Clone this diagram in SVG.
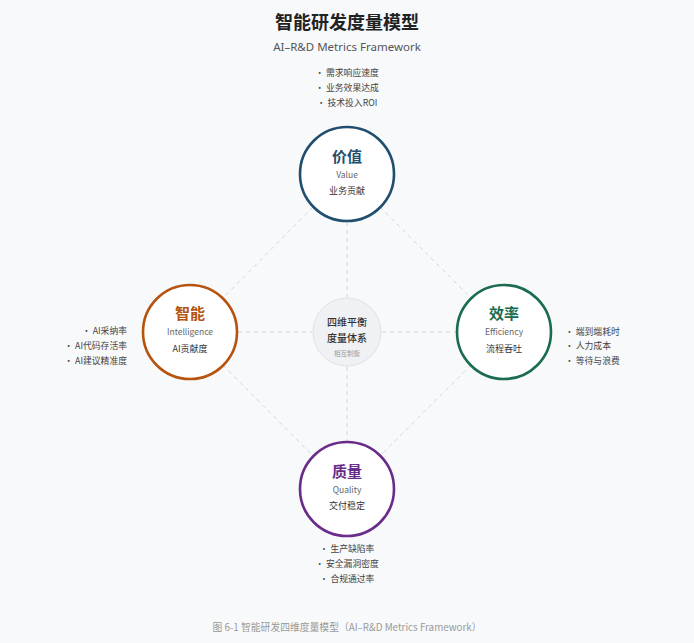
<svg xmlns="http://www.w3.org/2000/svg" width="694" height="643" viewBox="0 0 694 643">
<style>
text{font-family:"Noto Sans CJK SC","Noto Sans",sans-serif;}
.t{font-size:18px;font-weight:700;fill:#222;text-anchor:middle}
.st{font-size:11.5px;fill:#555;text-anchor:middle;font-family:"Noto Sans","Noto Sans CJK SC",sans-serif}
.cap{font-size:9.8px;fill:#999;text-anchor:middle}
.node{fill:#fff;stroke-width:2.6}
.nt{font-size:15px;font-weight:700;text-anchor:middle}
.ne{font-size:8.5px;fill:#666;text-anchor:middle}
.nl{font-size:9px;fill:#333;text-anchor:middle}
.b{font-size:8.8px;fill:#444}
.dash{stroke:#d3d6db;stroke-width:1;stroke-dasharray:4 4;fill:none}
</style>
<rect width="694" height="643" fill="#f8f9fb"/>
<text class="t" x="347" y="29">智能研发度量模型</text>
<text class="st" x="347" y="51">AI–R&amp;D Metrics Framework</text>
<g id="connectors">
<line class="dash" x1="313" y1="207" x2="223" y2="298"/>
<line class="dash" x1="380" y1="207" x2="471" y2="298"/>
<line class="dash" x1="223" y1="365" x2="313" y2="456"/>
<line class="dash" x1="471" y1="365" x2="380" y2="456"/>
<line class="dash" x1="347" y1="222" x2="347" y2="297"/>
<line class="dash" x1="347" y1="367" x2="347" y2="441"/>
<line class="dash" x1="238" y1="332" x2="312" y2="332"/>
<line class="dash" x1="382" y1="332" x2="456" y2="332"/>
</g>
<g id="center">
<circle cx="347" cy="332" r="34" fill="#f0f1f4" stroke="#dfe1e6" stroke-width="1"/>
<text x="347" y="326" style="font-size:10px;fill:#333;text-anchor:middle;font-weight:500">四维平衡</text>
<text x="347" y="342" style="font-size:10px;fill:#333;text-anchor:middle;font-weight:500">度量体系</text>
<text x="347" y="356" style="font-size:6.5px;fill:#999;text-anchor:middle">相互制衡</text>
</g>
<g id="value">
<circle class="node" cx="347" cy="174" r="47" stroke="#1f4e6e"/>
<text class="nt" x="347" y="162" fill="#1f4e6e">价值</text>
<text class="ne" x="347" y="178">Value</text>
<text class="nl" x="347" y="194">业务贡献</text>
<text class="b" x="347" y="76" text-anchor="middle">· 需求响应速度</text>
<text class="b" x="347" y="91" text-anchor="middle">· 业务效果达成</text>
<text class="b" x="347" y="106" text-anchor="middle">· 技术投入ROI</text>
</g>
<g id="intelligence">
<circle class="node" cx="190" cy="332" r="47" stroke="#b5530f"/>
<text class="nt" x="190" y="319" fill="#b5530f">智能</text>
<text class="ne" x="190" y="335">Intelligence</text>
<text class="nl" x="190" y="352">AI贡献度</text>
<text class="b" x="127" y="334" text-anchor="end">· AI采纳率</text>
<text class="b" x="127" y="349" text-anchor="end">· AI代码存活率</text>
<text class="b" x="127" y="364" text-anchor="end">· AI建议精准度</text>
</g>
<g id="efficiency">
<circle class="node" cx="504" cy="332" r="47" stroke="#1a6b50"/>
<text class="nt" x="504" y="319" fill="#1a6b50">效率</text>
<text class="ne" x="504" y="335">Efficiency</text>
<text class="nl" x="504" y="352">流程吞吐</text>
<text class="b" x="565" y="335">· 端到端耗时</text>
<text class="b" x="565" y="349">· 人力成本</text>
<text class="b" x="565" y="364">· 等待与浪费</text>
</g>
<g id="quality">
<circle class="node" cx="347" cy="489" r="47" stroke="#6a2c8a"/>
<text class="nt" x="347" y="477" fill="#6a2c8a">质量</text>
<text class="ne" x="347" y="493">Quality</text>
<text class="nl" x="347" y="509">交付稳定</text>
<text class="b" x="347" y="552" text-anchor="middle">· 生产缺陷率</text>
<text class="b" x="347" y="567" text-anchor="middle">· 安全漏洞密度</text>
<text class="b" x="347" y="582" text-anchor="middle">· 合规通过率</text>
</g>
<text class="cap" x="347" y="631">图 6-1 智能研发四维度量模型（AI–R&amp;D Metrics Framework）</text>
</svg>
